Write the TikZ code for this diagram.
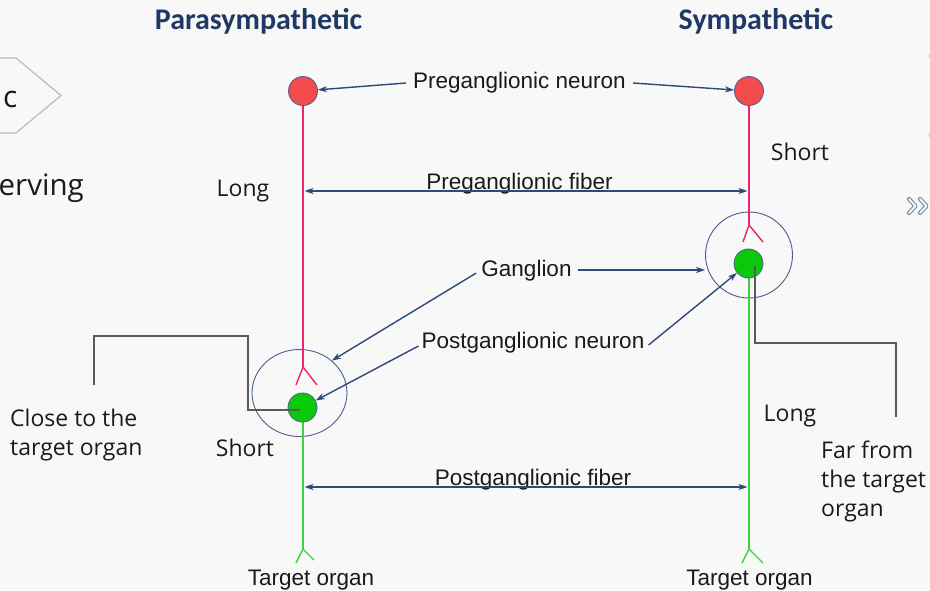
\documentclass[tikz,border=0pt]{standalone}
\usepackage{fontspec}
\setmainfont{Liberation Sans}
\newfontfamily\nunfont{Open Sans}
\newfontfamily\headfont{Carlito}
\usetikzlibrary{arrows.meta,shapes.geometric}
\definecolor{bgc}{HTML}{F8F8F8}
\definecolor{navy}{HTML}{1F3864}
\definecolor{arrc}{HTML}{2E4A7A}
\definecolor{pinkc}{HTML}{E8256E}
\definecolor{greenl}{HTML}{3CD23C}
\definecolor{greenf}{HTML}{0AC80A}
\definecolor{redf}{HTML}{F44B4B}
\definecolor{rimc}{HTML}{4A5E8E}
\definecolor{greyc}{HTML}{5A5A5A}
\definecolor{chev}{HTML}{A9BED0}
\definecolor{chevd}{HTML}{6F8DA8}
\definecolor{txtc}{HTML}{1A1A1A}
\begin{document}
\begin{tikzpicture}[x=1pt,y=-1pt,
  lbl/.style={font=\fontsize{22.5}{26}\selectfont, text=txtc, inner sep=0pt, anchor=base},
  side/.style={font=\nunfont\fontsize{23}{29}\selectfont, text=txtc, inner sep=0pt, anchor=base},
  sidel/.style={side, anchor=base west},
  head/.style={font=\headfont\bfseries\fontsize{30}{35}\selectfont, text=navy, inner sep=0pt, anchor=base},
  tipk/.tip={Stealth[length=9pt,width=6pt,inset=2.5pt]},
  arr/.style={draw=arrc, line width=1.4pt, -tipk},
  darr/.style={draw=arrc, line width=1.4pt, tipk-tipk},
  redc/.style={circle, fill=redf, draw=rimc, line width=0.8pt, minimum size=29pt, inner sep=0pt},
  grnc/.style={circle, fill=greenf, draw=rimc, line width=0.8pt, minimum size=29pt, inner sep=0pt},
  gang/.style={ellipse, draw=rimc, line width=0.9pt, inner sep=0pt},
  pinkln/.style={draw=pinkc, line width=1.4pt},
  grnln/.style={draw=greenl, line width=1.4pt},
  conn/.style={draw=greyc, line width=1.5pt},
  chevstyle/.style={draw=chevd, line width=1.1pt, double=bgc, double distance=2pt, line cap=round, line join=round},
]
% background / bounding box
\fill[bgc] (0,0) rectangle (930,590);
\useasboundingbox (0,0) rectangle (930,590);

% partial elements at the left and right edges
\draw[chev, line width=1.2pt] (-5,58) -- (16,58) -- (61,95.5) -- (16,133) -- (-5,133);
\node[side, anchor=base east, font=\nunfont\fontsize{30}{34}\selectfont] (cfrag) at (17.5,107) {c};
\node[side, anchor=base east, font=\nunfont\fontsize{29.5}{34}\selectfont] (ervfrag) at (84,195) {erving};
\draw[chevstyle] (909,199) -- (915.5,206) -- (909,213);
\draw[chevstyle] (920,199) -- (926.5,206) -- (920,213);
\fill[black!15] (931.5,56) circle (3.2);
\fill[black!15] (931.5,135) circle (3.2);

% headings
\node[head] (hpara) at (258.5,29) {Parasympathetic};
\node[head] (hsym) at (756,29) {Sympathetic};

% ganglia
\node[gang, minimum width=95pt, minimum height=87pt] (gang1) at (299.5,393) {};
\node[gang, minimum width=87pt, minimum height=86pt] (gang2) at (749,255) {};

% neuron coordinates
\coordinate (fork1) at (303,367);
\coordinate (fork2) at (749,225);
\coordinate (tfork1) at (303,549);
\coordinate (tfork2) at (749,549);

% preganglionic fibers (pink)
\draw[pinkln] (303,100) -- (fork1);
\draw[pinkln] (fork1) -- (296,385);
\draw[pinkln] (fork1) -- (317,385);
\draw[pinkln] (749,100) -- (fork2);
\draw[pinkln] (fork2) -- (743,242);
\draw[pinkln] (fork2) -- (763,242);

% postganglionic fibers (green)
\draw[grnln] (303,415) -- (tfork1);
\draw[grnln] (tfork1) -- (296,563);
\draw[grnln] (tfork1) -- (314,560);
\draw[grnln] (749,270) -- (tfork2);
\draw[grnln] (tfork2) -- (742,563);
\draw[grnln] (tfork2) -- (763,563);

% grey connectors to the side notes
\coordinate (g1in) at (300,410);
\coordinate (clstart) at (94,385);
\draw[conn] (clstart) -- (94,336) -- (248,336) -- (248,410) -- (g1in);
\coordinate (g2in) at (755,266);
\coordinate (frend) at (896,417);
\draw[conn] (g2in) -- (755,343) -- (896,343) -- (frend);

% cell bodies
\node[redc] (pre1) at (303,91) {};
\node[redc] (pre2) at (749,91) {};
\node[grnc] (g1) at (302.5,407.5) {};
\node[grnc] (g2) at (748.5,263.5) {};
% re-draw grey connector ends over the green bodies
\draw[conn] (248,410) -- (g1in);
\draw[conn] (g2in) -- (755,280);

% labels
\node[lbl] (pnlbl) at (519.5,88) {Preganglionic neuron};
\node[lbl] (pflbl) at (519.5,189) {Preganglionic fiber};
\node[lbl] (glbl) at (526.5,276) {Ganglion};
\node[lbl] (postnlbl) at (533,348) {Postganglionic neuron};
\node[lbl] (postflbl) at (533,485) {Postganglionic fiber};
\node[lbl] (to1) at (311,585) {Target organ};
\node[lbl] (to2) at (749.5,585) {Target organ};

\node[side] (long1) at (243,196) {Long};
\node[side] (short1) at (245,456) {Short};
\node[side] (short2) at (800,160) {Short};
\node[side] (long2) at (790,421) {Long};
\node[sidel] (close1) at (10,426) {Close to the};
\node[sidel] (close2) at (10,455) {target organ};
\node[sidel] (far1) at (821,458) {Far from};
\node[sidel] (far2) at (821,487) {the target};
\node[sidel] (far3) at (821,516) {organ};

% arrows
\draw[arr] ([xshift=-7pt,yshift=5pt]pnlbl.base west) -- (pre1);
\draw[arr] ([xshift=7pt,yshift=5pt]pnlbl.base east) -- (pre2);
\coordinate (pfL) at (304.5,191);
\coordinate (pfR) at (747.5,191);
\draw[darr] (pfL) -- (pfR);
\draw[arr] ([xshift=6pt,yshift=6pt]glbl.base east) -- ([yshift=6pt]glbl.base east -| gang2.west);
\draw[arr] ([xshift=-5pt,yshift=3pt]glbl.base west) -- (gang1.45);
\draw[arr] ([xshift=-3pt,yshift=2pt]postnlbl.base west) -- (g1);
\draw[arr] ([xshift=4pt,yshift=3pt]postnlbl.base east) -- (g2);
\coordinate (pofL) at (304.5,487);
\coordinate (pofR) at (747.5,487);
\draw[darr] (pofL) -- (pofR);
\end{tikzpicture}
\end{document}
